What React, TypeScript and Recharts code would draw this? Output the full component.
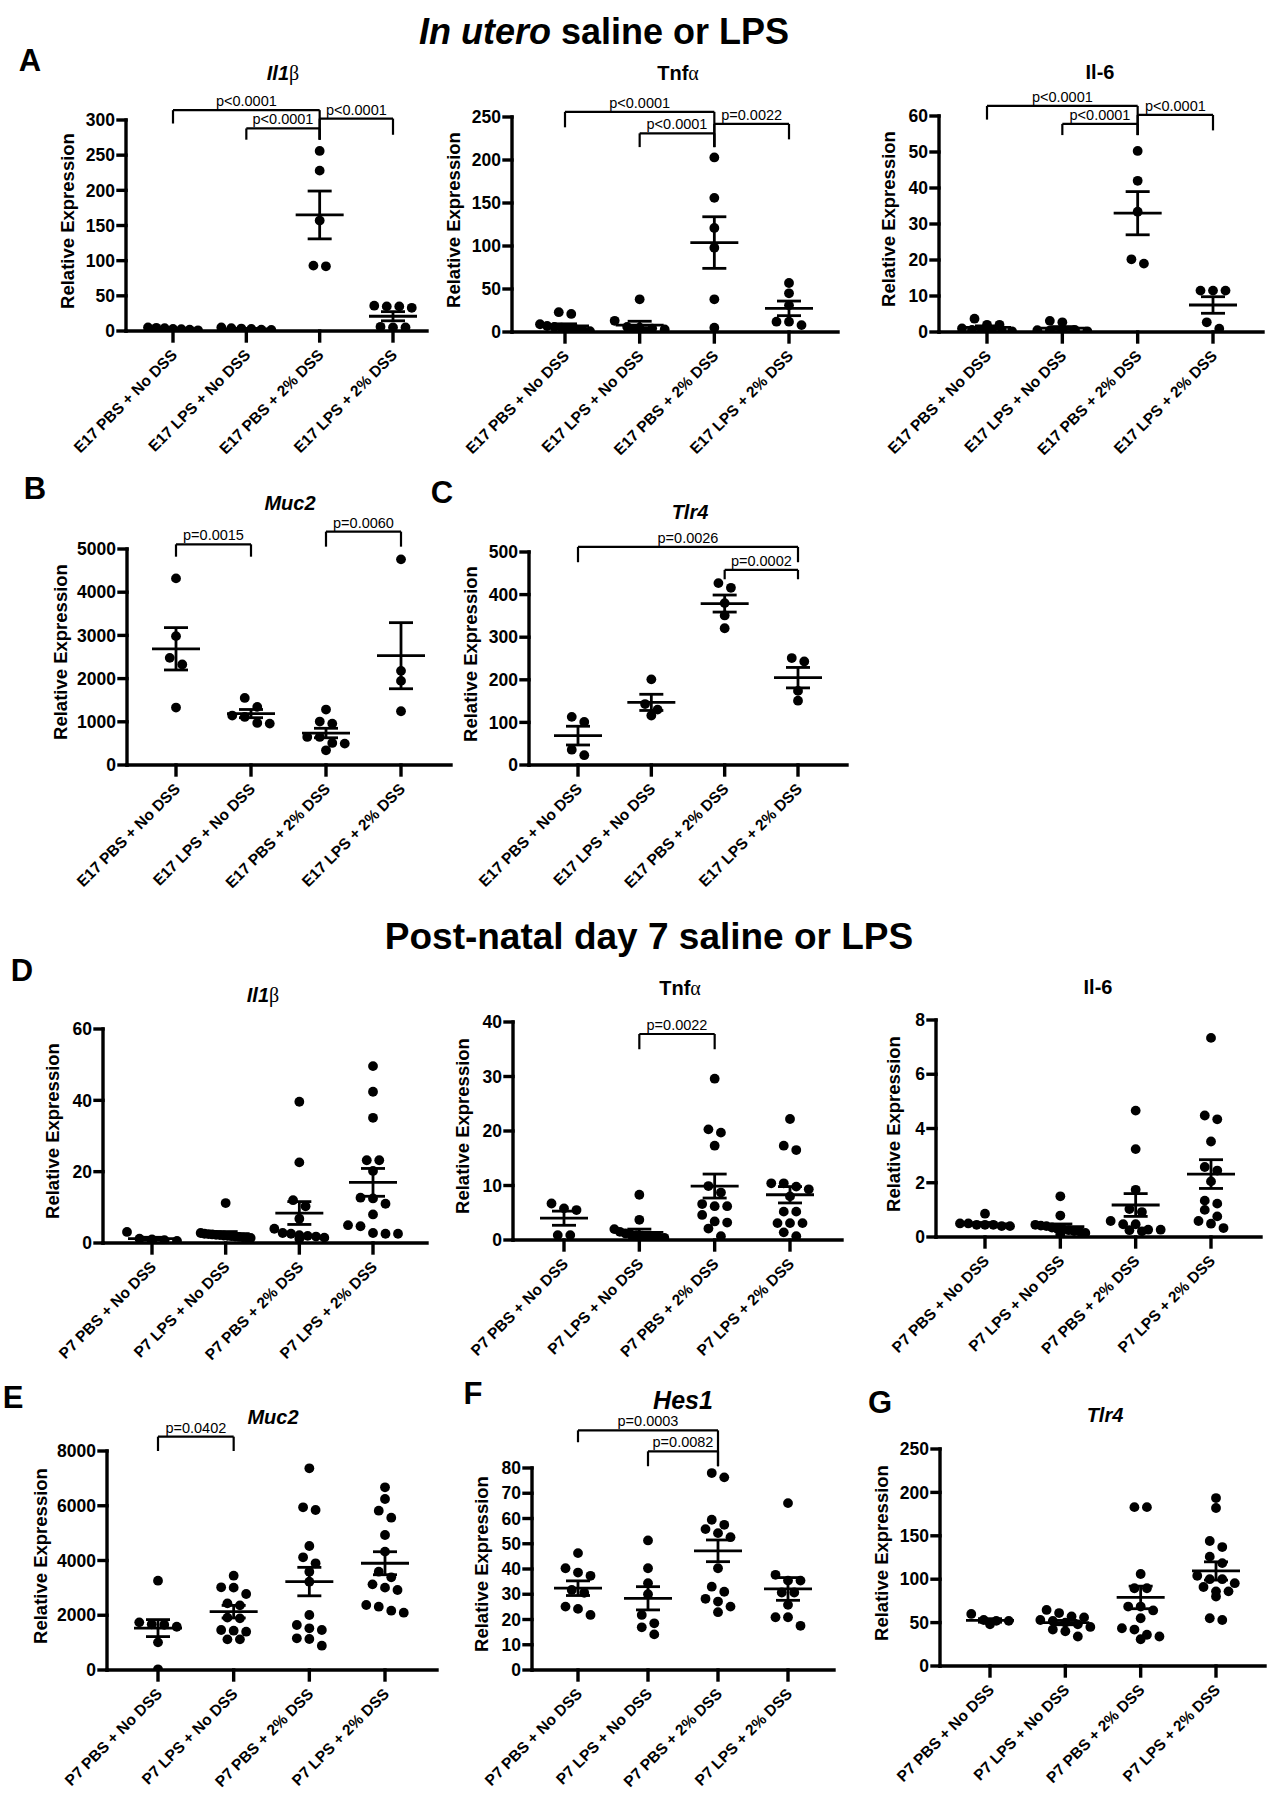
import React from "react";
import { ComposedChart, Scatter, XAxis, YAxis, ErrorBar, ReferenceLine } from "recharts";

const FONT = "'Liberation Sans', Arial, Helvetica, sans-serif";
const SERIF = "'Liberation Serif', 'DejaVu Serif', serif";

const e17Groups = ["E17 PBS + No DSS", "E17 LPS + No DSS", "E17 PBS + 2% DSS", "E17 LPS + 2% DSS"];
const p7Groups = ["P7 PBS + No DSS", "P7 LPS + No DSS", "P7 PBS + 2% DSS", "P7 LPS + 2% DSS"];

// A - Il1b, in utero
const il1bE17 = [
  [5, 4.5, 4, 3, 2.5, 2, 1],
  [5, 4, 3.5, 3, 2, 1.5],
  [256, 228, 157, 93, 92],
  [36, 35, 35, 33, 6, 5, 5],
];
const il1bE17Mean = [3, 3, 165, 21];
const il1bE17Sem = [0.6, 0.6, 34, 6.5];
const il1bE17Ticks = [0, 50, 100, 150, 200, 250, 300];
const il1bE17Stats = [
  { a: 1, b: 3, y: 314, ya: 295, yb: 272, p: "p<0.0001" },
  { a: 2, b: 3, y: 288, ya: 272, yb: 272, p: "p<0.0001" },
  { a: 3, b: 4, y: 302, ya: 272, yb: 279, p: "p<0.0001" },
];

// A - Tnfa, in utero
const tnfE17 = [
  [23, 21, 9, 7, 6, 5, 4, 3, 2, 1],
  [38, 13, 6, 5, 4, 3, 2, 1],
  [203, 156, 121, 98, 38, 5],
  [57, 45, 31, 12, 12, 8],
];
const tnfE17Mean = [7, 8, 104, 27.5];
const tnfE17Sem = [2.5, 4.5, 30, 8.5];
const tnfE17Ticks = [0, 50, 100, 150, 200, 250];
const tnfE17Stats = [
  { a: 1, b: 3, y: 256, ya: 238, yb: 215, p: "p<0.0001" },
  { a: 2, b: 3, y: 231, ya: 215, yb: 215, p: "p<0.0001" },
  { a: 3, b: 4, y: 242, ya: 215, yb: 224, p: "p=0.0022" },
];

// A - Il6, in utero
const il6E17 = [
  [3.7, 2, 2, 1, 0.6, 0.5, 0.4, 0.3, 0.2],
  [3.1, 2.7, 0.6, 0.5, 0.4, 0.3, 0.3, 0.2],
  [50.3, 42, 33.4, 20.2, 19],
  [11.5, 11.5, 11.5, 2.7, 0.9],
];
const il6E17Mean = [1.3, 1.1, 33, 7.5];
const il6E17Sem = [0.4, 0.4, 6, 2.3];
const il6E17Ticks = [0, 10, 20, 30, 40, 50, 60];
const il6E17Stats = [
  { a: 1, b: 3, y: 62.8, ya: 59, yb: 54.7, p: "p<0.0001" },
  { a: 2, b: 3, y: 57.8, ya: 54.7, yb: 54.7, p: "p<0.0001" },
  { a: 3, b: 4, y: 60.3, ya: 54.7, yb: 56, p: "p<0.0001" },
];

// B - Muc2, in utero
const muc2E17 = [
  [4320, 2983, 2480, 2326, 1330],
  [1553, 1345, 1144, 1113, 974, 958],
  [1283, 1005, 958, 649, 649, 510, 495, 340],
  [4760, 2179, 1947, 1244],
];
const muc2E17Mean = [2690, 1190, 740, 2530];
const muc2E17Sem = [490, 95, 110, 765];
const muc2E17Ticks = [0, 1000, 2000, 3000, 4000, 5000];
const muc2E17Stats = [
  { a: 1, b: 2, y: 5108, ya: 4822, yb: 4822, p: "p=0.0015" },
  { a: 3, b: 4, y: 5402, ya: 5054, yb: 5054, p: "p=0.0060" },
];

// C - Tlr4, in utero
const tlr4E17 = [
  [113, 101, 36, 23],
  [201, 143, 130, 116],
  [427, 416, 380, 351, 321],
  [251, 243, 174, 151],
];
const tlr4E17Mean = [69, 147, 379, 205];
const tlr4E17Sem = [22, 19, 20, 24];
const tlr4E17Ticks = [0, 100, 200, 300, 400, 500];
const tlr4E17Stats = [
  { a: 1, b: 4, y: 512, ya: 476, yb: 476, p: "p=0.0026" },
  { a: 3, b: 4, y: 458, ya: 436, yb: 436, p: "p=0.0002" },
];

// D - Il1b, P7
const il1bP7 = [
  [3.1, 1.2, 1.0, 0.8, 0.6, 0.5],
  [11.2, 2.8, 2.6, 2.5, 2.4, 2.3, 2.2, 2.1, 2.0, 1.9, 1.8, 1.7, 1.6, 1.5, 1.4],
  [39.6, 22.6, 12, 10.3, 6.8, 4, 2.8, 2.6, 2.2, 2, 1.8, 1.5, 1.2],
  [49.6, 42.4, 35.1, 23.2, 23.2, 20.2, 12.7, 12.5, 11, 8, 5, 4.7, 2.8, 2.6, 2.6],
];
const il1bP7Mean = [1.2, 2.6, 8.4, 17];
const il1bP7Sem = [0.4, 0.6, 3.2, 3.9];
const il1bP7Ticks = [0, 20, 40, 60];

// D - Tnfa, P7
const tnfP7 = [
  [6.7, 5.8, 5.5, 0.9, 0.9],
  [8.3, 3.7, 2, 1.5, 1.2, 1, 0.9, 0.8, 0.7, 0.6, 0.5, 0.4, 0.3, 0.3],
  [29.6, 20.3, 19.7, 17.3, 9.9, 8.7, 6.6, 6.2, 6.2, 4.6, 3.4, 3.2, 2.1, 0.7],
  [22.2, 17.3, 16.5, 10.4, 10.4, 9.8, 9.3, 8, 5.2, 5.2, 3.1, 3.1, 3.1, 1.4, 0.7],
];
const tnfP7Mean = [4, 1.4, 9.9, 8.3];
const tnfP7Sem = [1.3, 0.6, 2.2, 1.5];
const tnfP7Ticks = [0, 10, 20, 30, 40];
const tnfP7Stats = [{ a: 2, b: 3, y: 37.8, ya: 35, yb: 35, p: "p=0.0022" }];

// D - Il6, P7
const il6P7 = [
  [0.86, 0.5, 0.5, 0.45, 0.45, 0.45, 0.4, 0.4],
  [1.5, 0.79, 0.45, 0.42, 0.4, 0.35, 0.3, 0.28, 0.25, 0.22, 0.2, 0.15, 0.1],
  [4.66, 3.24, 1.74, 1.03, 0.92, 0.59, 0.47, 0.47, 0.27, 0.27, 0.25, 0.21],
  [7.34, 4.48, 4.34, 3.52, 2.58, 2.45, 2.05, 1.34, 1.23, 1.0, 0.76, 0.59, 0.49, 0.33],
];
const il6P7Mean = [0.48, 0.38, 1.18, 2.32];
const il6P7Sem = [0.05, 0.1, 0.42, 0.53];
const il6P7Ticks = [0, 2, 4, 6, 8];

// E - Muc2, P7
const muc2P7 = [
  [3263, 1741, 1670, 1650, 1580, 1010, 25],
  [3446, 3020, 3008, 2776, 2435, 2362, 1912, 1887, 1461, 1437, 1400, 1120, 1120],
  [7367, 5942, 5845, 4530, 4116, 3897, 3592, 3227, 2009, 1644, 1522, 1461, 1157, 1132, 889],
  [6673, 6247, 5820, 5564, 4932, 4323, 3592, 3385, 3129, 3008, 2922, 2374, 2313, 2167, 2094],
];
const muc2P7Mean = [1530, 2130, 3230, 3900];
const muc2P7Sem = [310, 230, 520, 420];
const muc2P7Ticks = [0, 2000, 4000, 6000, 8000];
const muc2P7Stats = [{ a: 1, b: 2, y: 8524, ya: 8000, yb: 8000, p: "p=0.0402" }];

// F - Hes1, P7
const hes1P7 = [
  [46.3, 40.3, 38.6, 37.3, 31.7, 30.6, 25.1, 24.2, 21.8],
  [51.3, 40.3, 34.4, 30, 21.8, 18.5, 16.9, 14.1],
  [78, 76.3, 59.5, 57.5, 55.8, 54.2, 52.6, 40.3, 33, 31, 28.2, 27.1, 25.1, 22.9],
  [66.1, 37.7, 35.4, 35.4, 30.7, 30.7, 25.8, 20.9, 20.9, 17.5],
];
const hes1P7Mean = [32.4, 28.4, 47.2, 32.1];
const hes1P7Sem = [2.9, 4.6, 4.3, 4.5];
const hes1P7Ticks = [0, 10, 20, 30, 40, 50, 60, 70, 80];
const hes1P7Stats = [
  { a: 1, b: 3, y: 94.9, ya: 90.2, yb: 80.7, p: "p=0.0003" },
  { a: 2, b: 3, y: 86.6, ya: 80.7, yb: 80.7, p: "p=0.0082" },
];

// G - Tlr4, P7
const tlr4P7 = [
  [60, 53, 52, 52, 48],
  [64.6, 61, 57, 56, 53, 52, 50, 48, 45, 42, 40, 34],
  [183, 183, 106, 89.6, 89.6, 68.5, 68.5, 64, 55, 43.5, 42, 36, 34, 30.8],
  [193.5, 182, 144, 137, 126, 118.5, 104, 100, 100, 95.4, 91, 86, 86, 80, 55, 53],
];
const tlr4P7Mean = [52.5, 50, 79, 109.5];
const tlr4P7Sem = [2, 2.5, 13, 10.5];
const tlr4P7Ticks = [0, 50, 100, 150, 200, 250];

type Stat = { a: number; b: number; y: number; ya: number; yb: number; p: string };
type PanelDef = {
  groups: string[];
  values: number[][];
  mean: number[];
  sem: number[];
  ticks: number[];
  stats: Stat[];
  ax: number;
  right: number;
  c1: number;
  c4: number;
  top: number;
  zero: number;
};

const Y_W = 80;
const M_TOP = 60;
const M_RIGHT = 6;
const X_H = 160;

// spread points of one group sideways, GraphPad style rows
function spread(values: number[], cat: number, pxY: number, pxX: number) {
  const sorted = [...values].sort((a, b) => b - a);
  const rows: number[][] = [];
  let start = Infinity;
  for (const v of sorted) {
    const py = v * pxY;
    if (rows.length === 0 || start - py > 9) {
      rows.push([v]);
      start = py;
    } else rows[rows.length - 1].push(v);
  }
  const pts: { x: number; y: number }[] = [];
  for (const row of rows) {
    const n = row.length;
    const step = n > 1 ? Math.min(12.5, 50 / (n - 1)) : 0;
    row.forEach((v, i) => pts.push({ x: cat + ((i - (n - 1) / 2) * step) / pxX, y: v }));
  }
  return pts;
}

const dotShape = (props: any) => <circle cx={props.cx} cy={props.cy} r={4.9} fill="#000" />;
const meanShape = (props: any) => (
  <line x1={props.cx - 24} y1={props.cy} x2={props.cx + 24} y2={props.cy} stroke="#000" strokeWidth={2.8} />
);

function CatTick(props: any) {
  const { x, y, payload, names } = props;
  const tx = x + 5;
  const ty = y + 13;
  return (
    <text x={tx} y={ty} transform={`rotate(-45 ${tx} ${ty})`} textAnchor="end" fontFamily={FONT} fontWeight="bold" fontSize={15.5} fill="#000">
      {names[payload.value - 1]}
    </text>
  );
}

const axisStroke = { stroke: "#000", strokeWidth: 3.4, strokeLinecap: "square" as const };

function Panel({ p }: { p: PanelDef }) {
  const span = (p.c4 - p.c1) / 3;
  const lo = 1 - (p.c1 - p.ax) / span;
  const hi = 4 + (p.right - p.c4) / span;
  const ymax = p.ticks[p.ticks.length - 1];
  const pxY = (p.zero - p.top) / ymax;
  const left = p.ax - Y_W;
  const width = p.right - left + M_RIGHT;
  const height = M_TOP + (p.zero - p.top) + X_H;
  const dots = p.values.map((vals, i) => spread(vals, i + 1, pxY, span));
  const means = p.mean.map((m, i) => ({ x: i + 1, y: m, sem: p.sem[i] }));
  const digits = String(ymax).length;
  const lineProps = { stroke: "#000", strokeWidth: 2.2, ifOverflow: "visible" as const };
  return (
    <>
      <div
        style={{
          position: "absolute",
          left: p.ax - (34 + 8 * digits),
          top: (p.top + p.zero) / 2 - 5,
          transform: "translate(-50%, -50%) rotate(-90deg)",
          fontFamily: FONT,
          fontWeight: "bold",
          fontSize: 18.5,
          whiteSpace: "nowrap",
          lineHeight: 1,
        }}
      >
        Relative Expression
      </div>
      <div style={{ position: "absolute", left, top: p.top - M_TOP }}>
        <ComposedChart width={width} height={height} margin={{ top: M_TOP, right: M_RIGHT, bottom: 0, left: 0 }}>
          <XAxis
            type="number"
            dataKey="x"
            domain={[lo, hi]}
            ticks={[1, 2, 3, 4]}
            interval={0}
            allowDataOverflow
            height={X_H}
            tickSize={10}
            tickMargin={2}
            axisLine={axisStroke}
            tickLine={axisStroke}
            tick={<CatTick names={p.groups} />}
          />
          <YAxis
            type="number"
            dataKey="y"
            domain={[0, ymax]}
            ticks={p.ticks}
            interval={0}
            allowDataOverflow
            width={Y_W}
            tickSize={8}
            tickMargin={3}
            axisLine={axisStroke}
            tickLine={axisStroke}
            tick={{ fill: "#000", fontSize: 17.5, fontWeight: "bold", fontFamily: FONT }}
          />
          {dots.map((d, i) => (
            <Scatter key={i} data={d} isAnimationActive={false} shape={dotShape} />
          ))}
          <Scatter data={means} isAnimationActive={false} shape={meanShape}>
            <ErrorBar dataKey="sem" direction="y" width={12} stroke="#000" strokeWidth={2.8} isAnimationActive={false} />
          </Scatter>
          {p.stats.map((s, i) => (
            <ReferenceLine
              key={`h${i}`}
              segment={[{ x: s.a, y: s.y }, { x: s.b, y: s.y }]}
              {...lineProps}
              label={{ value: s.p, position: "top", offset: 4, fill: "#000", fontSize: 14.5, fontFamily: FONT }}
            />
          ))}
          {p.stats.map((s, i) => (
            <ReferenceLine key={`l${i}`} segment={[{ x: s.a, y: s.y }, { x: s.a, y: s.ya }]} {...lineProps} />
          ))}
          {p.stats.map((s, i) => (
            <ReferenceLine key={`r${i}`} segment={[{ x: s.b, y: s.y }, { x: s.b, y: s.yb }]} {...lineProps} />
          ))}
        </ComposedChart>
      </div>
    </>
  );
}

const panels: PanelDef[] = [
  { groups: e17Groups, values: il1bE17, mean: il1bE17Mean, sem: il1bE17Sem, ticks: il1bE17Ticks, stats: il1bE17Stats, ax: 126, right: 427, c1: 173, c4: 393, top: 120, zero: 331 },
  { groups: e17Groups, values: tnfE17, mean: tnfE17Mean, sem: tnfE17Sem, ticks: tnfE17Ticks, stats: tnfE17Stats, ax: 512, right: 838, c1: 565, c4: 789, top: 117, zero: 332 },
  { groups: e17Groups, values: il6E17, mean: il6E17Mean, sem: il6E17Sem, ticks: il6E17Ticks, stats: il6E17Stats, ax: 939, right: 1263, c1: 987, c4: 1213, top: 116, zero: 332 },
  { groups: e17Groups, values: muc2E17, mean: muc2E17Mean, sem: muc2E17Sem, ticks: muc2E17Ticks, stats: muc2E17Stats, ax: 127, right: 451, c1: 176, c4: 401, top: 549, zero: 765 },
  { groups: e17Groups, values: tlr4E17, mean: tlr4E17Mean, sem: tlr4E17Sem, ticks: tlr4E17Ticks, stats: tlr4E17Stats, ax: 529, right: 847, c1: 578, c4: 798, top: 552, zero: 765 },
  { groups: p7Groups, values: il1bP7, mean: il1bP7Mean, sem: il1bP7Sem, ticks: il1bP7Ticks, stats: [], ax: 103, right: 427, c1: 152, c4: 373, top: 1029, zero: 1243 },
  { groups: p7Groups, values: tnfP7, mean: tnfP7Mean, sem: tnfP7Sem, ticks: tnfP7Ticks, stats: tnfP7Stats, ax: 513, right: 842, c1: 564, c4: 790, top: 1022, zero: 1240 },
  { groups: p7Groups, values: il6P7, mean: il6P7Mean, sem: il6P7Sem, ticks: il6P7Ticks, stats: [], ax: 936, right: 1261, c1: 985, c4: 1211, top: 1020, zero: 1237 },
  { groups: p7Groups, values: muc2P7, mean: muc2P7Mean, sem: muc2P7Sem, ticks: muc2P7Ticks, stats: muc2P7Stats, ax: 107, right: 437, c1: 158, c4: 385, top: 1451, zero: 1670 },
  { groups: p7Groups, values: hes1P7, mean: hes1P7Mean, sem: hes1P7Sem, ticks: hes1P7Ticks, stats: hes1P7Stats, ax: 532, right: 834, c1: 578, c4: 788, top: 1468, zero: 1670 },
  { groups: p7Groups, values: tlr4P7, mean: tlr4P7Mean, sem: tlr4P7Sem, ticks: tlr4P7Ticks, stats: [], ax: 940, right: 1265, c1: 990, c4: 1216, top: 1449, zero: 1666 },
];

const greek = { fontFamily: SERIF, fontWeight: "normal" as const };
const il1b = (
  <>
    <i>Il1</i>
    <span style={greek}>β</span>
  </>
);
const tnfa = (
  <>
    Tnf<span style={greek}>α</span>
  </>
);

const titles: { x: number; y: number; size: number; node: React.ReactNode }[] = [
  { x: 604, y: 32, size: 36, node: <><i>In utero</i> saline or LPS</> },
  { x: 649, y: 936, size: 37, node: "Post-natal day 7 saline or LPS" },
  { x: 283, y: 73, size: 20, node: il1b },
  { x: 678, y: 73, size: 20, node: tnfa },
  { x: 1100, y: 72, size: 20, node: "Il-6" },
  { x: 290, y: 503, size: 20, node: <i>Muc2</i> },
  { x: 690, y: 512, size: 20, node: <i>Tlr4</i> },
  { x: 263, y: 995, size: 20, node: il1b },
  { x: 680, y: 988, size: 20, node: tnfa },
  { x: 1098, y: 987, size: 20, node: "Il-6" },
  { x: 273, y: 1417, size: 20, node: <i>Muc2</i> },
  { x: 683, y: 1400, size: 25, node: <i>Hes1</i> },
  { x: 1105, y: 1415, size: 20, node: <i>Tlr4</i> },
  { x: 30, y: 60, size: 31, node: "A" },
  { x: 35, y: 488, size: 31, node: "B" },
  { x: 442, y: 492, size: 31, node: "C" },
  { x: 22, y: 970, size: 31, node: "D" },
  { x: 13, y: 1397, size: 31, node: "E" },
  { x: 473, y: 1393, size: 31, node: "F" },
  { x: 880, y: 1402, size: 31, node: "G" },
];

export default function App() {
  return (
    <div style={{ position: "absolute", left: 0, top: 0, width: 1271, height: 1800, background: "#fff", overflow: "hidden" }}>
      {panels.map((p, i) => (
        <Panel key={i} p={p} />
      ))}
      {titles.map((t, i) => (
        <div
          key={i}
          style={{
            position: "absolute",
            left: t.x,
            top: t.y,
            transform: "translate(-50%, -50%)",
            fontFamily: FONT,
            fontWeight: "bold",
            fontSize: t.size,
            whiteSpace: "nowrap",
            lineHeight: 1,
          }}
        >
          {t.node}
        </div>
      ))}
    </div>
  );
}
